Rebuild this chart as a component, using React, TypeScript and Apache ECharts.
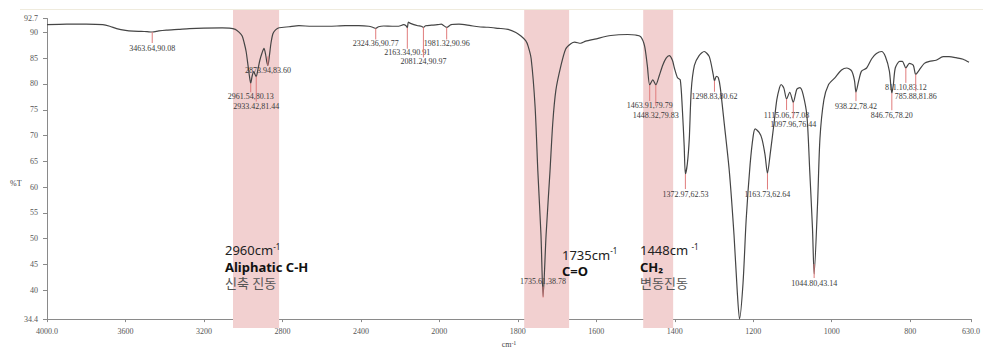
import { useEffect, useRef } from 'react';
import * as echarts from 'echarts';

// FT-IR spectrum: [wavenumber (cm-1), %T]
const SPECTRUM: [number, number][] = [
  [4000, 91.5], [3900, 91.6], [3800, 91.6], [3716, 91.5], [3680, 91.2], [3645, 90.75], [3600, 90.4],
  [3560, 90.25], [3520, 90.2], [3490, 90.15], [3463.64, 90.08], [3430, 90.3], [3391, 90.45], [3330, 90.6],
  [3274, 90.75], [3200, 90.85], [3107, 90.9], [3070, 90.85], [3040, 90.6], [3020, 90.0], [3005, 89.3],
  [2995, 88.0], [2985, 86.3], [2975, 83.5], [2968, 81.5], [2961.54, 80.13], [2954, 81.6], [2946, 82.4],
  [2940, 81.9], [2933.42, 81.44], [2925, 82.8], [2915, 84.6], [2904, 86.0], [2894, 86.9], [2886, 85.8],
  [2880, 84.4], [2873.94, 83.6], [2866, 85.6], [2858, 88.0], [2848, 89.8], [2835, 90.5], [2817, 90.9],
  [2766, 91.1], [2716, 91.3], [2650, 91.2], [2564, 91.2], [2480, 91.3], [2411, 91.3], [2360, 91.2],
  [2340, 91.0], [2324.36, 90.77], [2310, 91.1], [2284, 91.25], [2240, 91.2], [2208, 91.2], [2182, 91.5],
  [2170, 91.3], [2163.34, 90.91], [2158, 92.0], [2150, 91.8], [2130, 91.5], [2110, 91.3], [2092, 91.2],
  [2081.24, 90.97], [2070, 91.3], [2040, 91.4], [2010, 91.5], [1995, 91.6], [1981.32, 90.96], [1970, 91.5],
  [1950, 91.6], [1920, 91.3], [1900, 91.1], [1876, 91.0], [1850, 90.8], [1825, 90.6], [1805, 90.0],
  [1792, 89.3], [1780, 88.4], [1774, 87.4], [1766, 84.9], [1756, 75.6], [1749, 63.1], [1741, 50.7],
  [1735.61, 38.78], [1728, 50.7], [1718, 63.1], [1711, 72.4], [1703, 78.8], [1690, 83.6], [1678, 86.8],
  [1665, 87.8], [1655, 88.1], [1640, 87.9], [1627, 88.3], [1604, 88.7], [1563, 89.4], [1520, 89.6],
  [1500, 89.5], [1487, 89.2], [1477, 87.4], [1470, 83.6], [1463.91, 79.79], [1456, 80.8], [1448.32, 79.83],
  [1440, 81.5], [1431, 83.6], [1422, 85.0], [1414, 85.5], [1406, 84.6], [1401, 83.1], [1393, 81.2],
  [1386, 80.8], [1381, 75.6], [1376, 68.0], [1372.97, 62.53], [1368, 64.5], [1363, 69.4], [1358, 78.8],
  [1350, 83.6], [1338, 85.5], [1325, 86.3], [1312, 85.3], [1302, 81.8], [1298.83, 80.62], [1294, 81.5],
  [1289, 81.2], [1284, 79.3], [1274, 72.4], [1261, 63.1], [1249, 50.7], [1241, 40.1], [1235, 34.4],
  [1226, 41.4], [1218, 53.7], [1208, 64.4], [1200, 70.0], [1195, 71.3], [1185, 70.6], [1178, 69.4],
  [1170, 66.3], [1163.73, 62.64], [1157, 66.3], [1147, 72.4], [1140, 76.9], [1133, 79.3], [1129, 79.9],
  [1122, 79.2], [1115.06, 77.08], [1107, 78.4], [1097.96, 76.44], [1089, 79.0], [1081, 79.3], [1073, 78.0],
  [1063, 73.7], [1056, 63.1], [1049, 52.0], [1044.8, 43.14], [1036, 56.9], [1030, 69.4], [1020, 76.9],
  [1008, 79.9], [992, 81.2], [975, 82.7], [962, 83.1], [949, 82.5], [942, 80.7], [938.22, 78.42],
  [931, 80.7], [924, 82.5], [911, 83.1], [898, 84.9], [886, 85.9], [873, 86.3], [863, 85.3], [853, 82.5],
  [846.76, 78.2], [843, 79.8], [838, 83.1], [827, 84.4], [820, 84.4], [811.1, 83.12], [802, 84.0],
  [792, 83.6], [785.88, 81.86], [777, 82.7], [764, 84.0], [751, 84.4], [734, 84.6], [716, 85.3],
  [701, 85.3], [683, 85.1], [665, 84.8], [650, 84.2],
];

// Labelled peaks
const PEAK_WN = [3463.64, 2961.54, 2933.42, 2873.94, 2324.36, 2163.34, 2081.24, 1981.32, 1735.61, 1463.91, 1448.32,
  1372.97, 1298.83, 1163.73, 1115.06, 1097.96, 1044.80, 938.22, 846.76, 811.10, 785.88];
const PEAK_T = [90.08, 80.13, 81.44, 83.60, 90.77, 90.91, 90.97, 90.96, 38.78, 79.79, 79.83,
  62.53, 80.62, 62.64, 77.08, 76.44, 43.14, 78.42, 78.20, 83.12, 81.86];

// Highlighted bands (cm-1)
const BAND_FROM = [3056, 1789, 1487];
const BAND_TO = [2822, 1675, 1411];

// Axis ticks
const X_TICKS = [4000, 3600, 3200, 2800, 2400, 2000, 1800, 1600, 1400, 1200, 1000, 800];
const X_TICK_LABELS = ['4000.0', '3600', '3200', '2800', '2400', '2000', '1800', '1600', '1400', '1200', '1000', '800'];
const X_END_LABEL = '630.0';
const X_END_WN = 645;
const Y_TICKS = [34.4, 40, 45, 50, 55, 60, 65, 70, 75, 80, 85, 90, 92.7];
const Y_TICK_LABELS = ['34.4', '40', '45', '50', '55', '60', '65', '70', '75', '80', '85', '90', '92.7'];

// Label layout (px): marker start, marker end, label centre offset from the peak point
const PEAK_LAYOUT: [number, number, number][] = [
  [0, 11, 16], [0, 9, 13], [0, 25, 30], [-9, 0, 5], [0, 11, 15], [0, 21, 25], [0, 30, 34], [0, 12, 16],
  [-10, 1, -15], [0, 16, 20], [0, 21, 31], [0, 15, 20], [0, 11, 16], [0, 16, 21], [0, 11, 16], [0, 16, 22],
  [-10, 4, 9], [0, 9, 14], [0, 17, 22], [0, 15, 20], [0, 17, 22],
];

// Split-scale wavenumber axis (2x expanded below 2000 cm-1)
const toT = (w: number) => (w >= 2000 ? (4000 - w) / 2 : 3000 - w);

const SERIF = '"Liberation Serif", "DejaVu Serif", serif';
const SANS = '"Noto Sans", "Noto Sans CJK KR", sans-serif';

export default function App() {
  const ref = useRef<HTMLDivElement>(null);

  useEffect(() => {
    if (!ref.current) return;
    const chart = echarts.init(ref.current, undefined, { renderer: 'svg' });
    const xMax = toT(X_END_WN);
    const xTickT = [...X_TICKS.map(toT), xMax];
    const xLabels = [...X_TICK_LABELS, X_END_LABEL];

    const LH = 16.3;
    const big = { fontSize: 13, lineHeight: LH, fontFamily: SANS, fill: '#222' };
    const bold = { fontSize: 13, lineHeight: LH, fontFamily: SANS, fontWeight: 'bold', fill: '#111' };
    const sup = { fontSize: 8, lineHeight: LH, fontFamily: SANS, fill: '#222', verticalAlign: 'top' };
    const kor = { fontSize: 13, lineHeight: LH, fontFamily: SANS, fill: '#555' };
    const rich = { n: big, b: bold, s: sup, k: kor };
    const ann = (x: number, yTop: number, text: string) => ({
      type: 'text', x, y: yTop, z: 10, silent: true,
      style: { text, rich, verticalAlign: 'top', align: 'left', lineHeight: LH },
    });

    const option: any = {
      animation: false,
      backgroundColor: '#ffffff',
      grid: [
        { left: 47, top: 18.5, width: 928, height: 312 },
        { left: 47, top: 10, width: 928, height: 318 },
      ],
      xAxis: [
        {
          type: 'value', gridIndex: 0, min: 0, max: xMax,
          name: '{a|cm}{b|-1}', nameLocation: 'middle', nameGap: 20,
          nameTextStyle: {
            rich: {
              a: { fontSize: 8, fontFamily: SERIF, color: '#444' },
              b: { fontSize: 6, fontFamily: SERIF, color: '#444', verticalAlign: 'top' },
            },
          },
          axisLine: { show: true, lineStyle: { color: '#8a8a8a', width: 1 } },
          axisTick: { show: true, customValues: xTickT, length: 3, lineStyle: { color: '#8a8a8a' } },
          axisLabel: {
            customValues: xTickT, margin: 8, fontSize: 8, fontFamily: SERIF, color: '#555',
            formatter: (v: number) => {
              const i = xTickT.findIndex((t) => Math.abs(t - v) < 0.01);
              return i >= 0 ? xLabels[i] : '';
            },
          },
          splitLine: { show: false },
        },
        { type: 'value', gridIndex: 1, min: 0, max: xMax, show: false },
      ],
      yAxis: [
        {
          type: 'value', gridIndex: 0, min: 34.4, max: 92.7,
          axisLine: { show: true, lineStyle: { color: '#8a8a8a', width: 1 } },
          axisTick: { show: true, customValues: Y_TICKS, length: 4, lineStyle: { color: '#8a8a8a' } },
          axisLabel: {
            customValues: Y_TICKS, margin: 9, fontSize: 8, fontFamily: SERIF, color: '#555',
            formatter: (v: number) => {
              const i = Y_TICKS.findIndex((t) => Math.abs(t - v) < 0.01);
              return i >= 0 ? Y_TICK_LABELS[i] : '';
            },
          },
          splitLine: { show: false },
        },
        { type: 'value', gridIndex: 1, min: 0, max: 1, show: false },
      ],
      series: [
        {
          type: 'custom', xAxisIndex: 1, yAxisIndex: 1, z: 1, silent: true,
          data: BAND_FROM.map((f, i) => [toT(f), toT(BAND_TO[i]), 0]),
          encode: { x: [0, 1], y: 2 },
          renderItem: (_p: any, api: any) => {
            const p1 = api.coord([api.value(0), 1]);
            const p2 = api.coord([api.value(1), 0]);
            return {
              type: 'rect',
              shape: { x: p1[0], y: p1[1], width: p2[0] - p1[0], height: p2[1] - p1[1] },
              style: { fill: '#f2d0d0' },
            };
          },
        },
        {
          type: 'line', xAxisIndex: 0, yAxisIndex: 0, z: 3,
          data: SPECTRUM.map(([w, t]) => [toT(w), t]),
          showSymbol: false, symbol: 'none', smooth: 0.25, clip: true,
          lineStyle: { color: '#454545', width: 1.2 },
        },
        {
          type: 'custom', xAxisIndex: 0, yAxisIndex: 0, z: 4, silent: true,
          data: PEAK_WN.map((w, i) => [toT(w), PEAK_T[i]]),
          encode: { x: 0, y: 1 },
          renderItem: (params: any, api: any) => {
            const i = params.dataIndex;
            const pt = api.coord([api.value(0), api.value(1)]);
            const [m0, m1, dy] = PEAK_LAYOUT[i];
            return {
              type: 'group',
              children: [
                {
                  type: 'line',
                  shape: { x1: pt[0], y1: pt[1] + m0, x2: pt[0], y2: pt[1] + m1 },
                  style: { stroke: '#e07c7c', lineWidth: 1 },
                },
                {
                  type: 'text',
                  style: {
                    text: `${PEAK_WN[i].toFixed(2)},${PEAK_T[i].toFixed(2)}`,
                    x: pt[0], y: pt[1] + dy, align: 'center', verticalAlign: 'middle',
                    fontSize: 8, fontFamily: SERIF, fill: '#3a3a3a',
                  },
                },
              ],
            };
          },
        },
      ],
      graphic: [
        { type: 'line', silent: true, z: 0, shape: { x1: 20, y1: 9.5, x2: 983, y2: 9.5 }, style: { stroke: '#efebdd', lineWidth: 1 } },
        { type: 'text', x: 10, y: 183, silent: true, style: { text: '%T', fontSize: 8, fontFamily: SERIF, fill: '#444', verticalAlign: 'middle' } },
        ann(225, 242.3, '{n|2960cm}{s|-1}\n{b|Aliphatic C-H}\n{k|신축 진동}'),
        ann(562, 246.8, '{n|1735cm}{s|-1}\n{b|C=O}'),
        ann(640, 242.3, '{n|1448cm }{s|-1}\n{b|CH₂}\n{k|변동진동}'),
      ],
    };

    chart.setOption(option);
    return () => chart.dispose();
  }, []);

  return (
    <div
      ref={ref}
      style={{ position: 'fixed', left: 0, top: 0, width: 983, height: 353, background: '#fff' }}
    />
  );
}
